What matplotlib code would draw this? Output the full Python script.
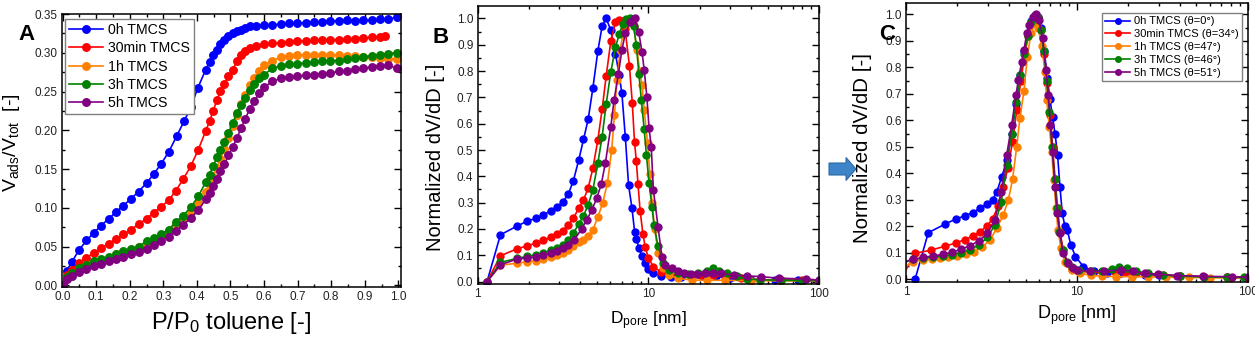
import numpy as np
import matplotlib
matplotlib.use("Agg")
import matplotlib.pyplot as plt
from matplotlib import ticker
from matplotlib.patches import FancyArrow

plt.rcParams['font.family'] = ['Liberation Sans', 'DejaVu Sans']
plt.rcParams['mathtext.default'] = 'regular'

colors = ['#0000FF', '#FF0000', '#FF8000', '#008000', '#800080']
labels_A = ['0h TMCS', '30min TMCS', '1h TMCS', '3h TMCS', '5h TMCS']
labels_C = ['0h TMCS (θ=0°)', '30min TMCS (θ=34°)', '1h TMCS (θ=47°)',
            '3h TMCS (θ=46°)', '5h TMCS (θ=51°)']

# ---- panel A: toluene isotherms
p_blue = [0, 0.012, 0.027, 0.049, 0.071, 0.093, 0.114, 0.137, 0.160, 0.181, 0.204, 0.226, 0.250, 0.272, 0.292,
          0.316, 0.340, 0.362, 0.382, 0.403, 0.426, 0.438, 0.449, 0.460, 0.470, 0.482, 0.494, 0.507, 0.519, 0.532,
          0.544, 0.558, 0.576, 0.601, 0.625, 0.650, 0.675, 0.699, 0.724, 0.749, 0.773, 0.798, 0.822, 0.847, 0.872,
          0.896, 0.921, 0.946, 0.970, 0.995]
v_blue = [0, 0.019, 0.030, 0.046, 0.058, 0.068, 0.077, 0.086, 0.095, 0.103, 0.112, 0.121, 0.132, 0.144, 0.156,
          0.172, 0.193, 0.212, 0.230, 0.255, 0.278, 0.288, 0.297, 0.304, 0.311, 0.317, 0.322, 0.326, 0.328, 0.330,
          0.332, 0.334, 0.335, 0.336, 0.336, 0.337, 0.338, 0.338, 0.339, 0.340, 0.340, 0.341, 0.341, 0.342, 0.341,
          0.342, 0.342, 0.343, 0.343, 0.346]

p_red = [0, 0.014, 0.027, 0.049, 0.071, 0.093, 0.114, 0.137, 0.160, 0.181, 0.204, 0.226, 0.250, 0.272, 0.292,
         0.316, 0.337, 0.359, 0.382, 0.404, 0.426, 0.438, 0.448, 0.460, 0.470, 0.482, 0.494, 0.507, 0.519, 0.532,
         0.544, 0.558, 0.576, 0.601, 0.625, 0.650, 0.675, 0.699, 0.724, 0.749, 0.773, 0.798, 0.822, 0.847, 0.872,
         0.896, 0.921, 0.946, 0.961]
v_red = [0, 0.014, 0.020, 0.029, 0.036, 0.042, 0.048, 0.054, 0.060, 0.066, 0.072, 0.079, 0.086, 0.094, 0.101,
         0.110, 0.122, 0.137, 0.154, 0.175, 0.199, 0.212, 0.225, 0.239, 0.251, 0.260, 0.270, 0.278, 0.289, 0.297,
         0.302, 0.306, 0.309, 0.311, 0.312, 0.313, 0.314, 0.315, 0.315, 0.316, 0.317, 0.317, 0.317, 0.318, 0.318,
         0.319, 0.320, 0.320, 0.321]

p_common = [0, 0.012, 0.027, 0.049, 0.071, 0.093, 0.114, 0.137, 0.160, 0.181, 0.204, 0.226, 0.250, 0.272, 0.292,
            0.316, 0.337, 0.359, 0.382, 0.404, 0.426, 0.438, 0.448, 0.460, 0.470, 0.482, 0.494, 0.507, 0.519, 0.532,
            0.544, 0.558, 0.571, 0.586, 0.601, 0.625, 0.650, 0.675, 0.699, 0.724, 0.749, 0.773, 0.798, 0.822, 0.847,
            0.872, 0.896, 0.921, 0.946, 0.970, 0.995]
v_orange = [0, 0.010, 0.015, 0.021, 0.026, 0.030, 0.033, 0.036, 0.040, 0.043, 0.046, 0.049, 0.055, 0.059, 0.064,
            0.069, 0.078, 0.086, 0.095, 0.106, 0.120, 0.130, 0.140, 0.152, 0.163, 0.176, 0.190, 0.205, 0.220, 0.234,
            0.246, 0.258, 0.268, 0.277, 0.284, 0.290, 0.294, 0.296, 0.297, 0.297, 0.297, 0.297, 0.297, 0.297, 0.296,
            0.296, 0.295, 0.294, 0.293, 0.292, 0.292]
v_green = [0, 0.011, 0.016, 0.022, 0.027, 0.031, 0.034, 0.037, 0.041, 0.044, 0.047, 0.050, 0.057, 0.061, 0.066,
           0.072, 0.082, 0.090, 0.101, 0.115, 0.133, 0.143, 0.154, 0.165, 0.175, 0.185, 0.197, 0.209, 0.223, 0.233,
           0.242, 0.252, 0.260, 0.267, 0.272, 0.280, 0.283, 0.285, 0.286, 0.287, 0.288, 0.289, 0.290, 0.290, 0.292,
           0.293, 0.295, 0.296, 0.297, 0.299, 0.300]
v_purple = [0, 0.008, 0.012, 0.017, 0.021, 0.025, 0.028, 0.031, 0.034, 0.037, 0.040, 0.043, 0.047, 0.052, 0.057,
            0.063, 0.070, 0.078, 0.087, 0.097, 0.111, 0.119, 0.128, 0.137, 0.147, 0.156, 0.168, 0.179, 0.190, 0.203,
            0.215, 0.228, 0.238, 0.248, 0.256, 0.263, 0.267, 0.269, 0.270, 0.271, 0.272, 0.273, 0.274, 0.276, 0.277,
            0.279, 0.280, 0.282, 0.283, 0.284, 0.280]

# ---- panel B: pore size distributions
dB_blue = [1.135, 1.36, 1.69, 1.95, 2.19, 2.42, 2.68, 2.93, 3.15, 3.4, 3.64, 3.91, 4.17, 4.44, 4.73, 5.06, 5.36,
           5.66, 6.03, 6.42, 6.75, 7.0, 7.33, 7.66, 8.02, 8.31, 8.5, 8.81, 9.18, 9.6, 10.0, 10.7, 11.8, 13.5, 15.5,
           18, 21, 25, 30, 40, 55, 75, 100]
vB_blue = [0, 0.178, 0.21, 0.23, 0.24, 0.252, 0.27, 0.285, 0.302, 0.333, 0.384, 0.462, 0.54, 0.616, 0.734, 0.876,
           0.97, 1.0, 0.955, 0.866, 0.784, 0.715, 0.55, 0.367, 0.279, 0.19, 0.162, 0.128, 0.096, 0.07, 0.048, 0.033,
           0.023, 0.018, 0.018, 0.02, 0.022, 0.02, 0.012, 0.008, 0.006, 0.005, 0.004]
dB_red = [1.135, 1.36, 1.69, 1.95, 2.19, 2.42, 2.68, 2.93, 3.15, 3.4, 3.64, 3.91, 4.17, 4.44, 4.73, 5.06, 5.36,
          5.66, 6.03, 6.42, 6.75, 7.0, 7.3, 7.75, 8.05, 8.3, 8.5, 8.7, 8.95, 9.3, 9.6, 10.0, 10.7, 11.8, 13.2, 15,
          17.5, 20, 24, 28, 35, 45, 60, 80, 100]
vB_red = [0, 0.098, 0.124, 0.136, 0.146, 0.157, 0.168, 0.18, 0.194, 0.216, 0.241, 0.279, 0.31, 0.355, 0.43, 0.538,
          0.654, 0.78, 0.914, 0.986, 0.995, 0.99, 0.96, 0.82, 0.68, 0.53, 0.46, 0.37, 0.27, 0.18, 0.13, 0.09, 0.057,
          0.038, 0.029, 0.025, 0.024, 0.026, 0.024, 0.018, 0.012, 0.008, 0.006, 0.005, 0.004]
dB_orange = [1.135, 1.36, 1.69, 1.95, 2.19, 2.42, 2.68, 2.93, 3.15, 3.4, 3.64, 3.91, 4.17, 4.44, 4.73, 5.06, 5.41,
             5.76, 6.1, 6.33, 6.55, 6.84, 7.1, 7.4, 7.8, 8.2, 8.58, 8.9, 9.18, 9.46, 9.9, 10.2, 10.5, 10.9, 11.4,
             12.2, 13.2, 15, 18, 22, 28, 40, 60, 100]
vB_orange = [0, 0.062, 0.07, 0.075, 0.08, 0.085, 0.092, 0.1, 0.11, 0.122, 0.135, 0.15, 0.16, 0.172, 0.197, 0.245,
             0.3, 0.375, 0.5, 0.633, 0.766, 0.88, 0.94, 0.98, 0.995, 0.97, 0.88, 0.8, 0.747, 0.652, 0.525, 0.41,
             0.3, 0.2, 0.11, 0.05, 0.025, 0.012, 0.006, 0.005, 0.005, 0.004, 0.003, 0.003]
dB_green = [1.135, 1.36, 1.69, 1.95, 2.19, 2.42, 2.68, 2.93, 3.15, 3.4, 3.64, 3.91, 4.17, 4.44, 4.73, 5.06, 5.36,
            5.66, 6.03, 6.42, 6.75, 7.1, 7.4, 7.8, 8.2, 8.5, 8.8, 9.1, 9.45, 9.75, 10.1, 10.5, 10.8, 11.4, 12.2,
            13.2, 15, 17, 19.5, 22, 24, 26, 29, 33, 38, 45, 60, 80, 100]
vB_green = [0, 0.073, 0.088, 0.096, 0.102, 0.109, 0.119, 0.128, 0.14, 0.159, 0.184, 0.22, 0.25, 0.292, 0.348,
            0.45, 0.55, 0.674, 0.797, 0.89, 0.94, 0.98, 0.998, 1.0, 0.97, 0.9, 0.79, 0.69, 0.58, 0.48, 0.375, 0.285,
            0.215, 0.134, 0.072, 0.045, 0.032, 0.03, 0.032, 0.04, 0.05, 0.042, 0.032, 0.02, 0.01, 0.007, 0.005,
            0.004, 0.004]
dB_purple = [1.135, 1.36, 1.69, 1.95, 2.19, 2.42, 2.68, 2.93, 3.15, 3.4, 3.67, 4.07, 4.35, 4.67, 4.98, 5.3, 5.6,
             6.03, 6.3, 6.68, 7.0, 7.33, 7.83, 8.1, 8.39, 8.77, 9.18, 9.46, 9.8, 10.1, 10.4, 10.7, 11.4, 12.0, 12.6,
             13.7, 15, 16.1, 17.7, 19.4, 21.6, 24, 26.5, 31.6, 38, 45.6, 58.4, 84, 100]
vB_purple = [0, 0.064, 0.085, 0.09, 0.094, 0.1, 0.107, 0.115, 0.126, 0.14, 0.158, 0.2, 0.234, 0.272, 0.316, 0.37,
             0.45, 0.589, 0.69, 0.79, 0.88, 0.943, 0.987, 0.995, 1.0, 0.95, 0.873, 0.804, 0.703, 0.582, 0.513, 0.348,
             0.209, 0.095, 0.063, 0.05, 0.04, 0.032, 0.03, 0.029, 0.032, 0.033, 0.032, 0.025, 0.022, 0.019, 0.013,
             0.01, 0.006]

# ---- panel C: normalized distributions
dC_blue = [1.13, 1.35, 1.69, 1.96, 2.21, 2.45, 2.71, 2.96, 3.21, 3.4, 3.63, 3.9, 4.15, 4.4, 4.65, 4.9, 5.15, 5.4,
           5.65, 5.9, 6.15, 6.45, 6.7, 6.95, 7.2, 7.44, 7.7, 7.95, 8.2, 8.5, 8.78, 9.2, 9.8, 10.9, 12.5, 15, 18, 21,
           25, 30, 40, 55, 75, 100]
vC_blue = [0, 0.176, 0.208, 0.228, 0.239, 0.252, 0.268, 0.283, 0.3, 0.331, 0.387, 0.45, 0.55, 0.66, 0.77, 0.86,
           0.93, 0.975, 0.998, 0.99, 0.95, 0.86, 0.76, 0.68, 0.611, 0.55, 0.47, 0.35, 0.25, 0.2, 0.186, 0.13, 0.086,
           0.048, 0.03, 0.025, 0.022, 0.02, 0.018, 0.015, 0.012, 0.01, 0.008, 0.006]
dC_red = [0.95, 1.13, 1.4, 1.69, 1.96, 2.21, 2.45, 2.71, 2.96, 3.21, 3.45, 3.7, 3.95, 4.2, 4.45, 4.7, 4.95, 5.2,
          5.45, 5.7, 5.95, 6.2, 6.45, 6.7, 6.95, 7.2, 7.45, 7.7, 7.95, 8.3, 8.8, 9.4, 10.2, 12, 14, 16.5, 19, 22, 26,
          32, 40, 55, 75, 100]
vC_red = [0.01, 0.098, 0.11, 0.125, 0.137, 0.15, 0.163, 0.18, 0.2, 0.228, 0.275, 0.35, 0.42, 0.52, 0.64, 0.75,
          0.85, 0.92, 0.97, 0.995, 0.985, 0.94, 0.85, 0.74, 0.62, 0.5, 0.38, 0.27, 0.18, 0.11, 0.06, 0.04, 0.03,
          0.027, 0.026, 0.03, 0.028, 0.024, 0.02, 0.017, 0.013, 0.01, 0.007, 0.005]
dC_orange = [0.95, 1.1, 1.25, 1.41, 1.58, 1.77, 2.0, 2.24, 2.5, 2.77, 3.1, 3.39, 3.71, 3.97, 4.2, 4.44, 4.64, 4.9,
             5.12, 5.38, 5.68, 5.94, 6.21, 6.5, 6.65, 6.89, 7.11, 7.33, 7.54, 7.74, 8.06, 8.51, 9.3, 10.4, 12, 14,
             17, 21, 26, 33, 45, 60, 80, 100]
vC_orange = [0.04, 0.067, 0.073, 0.075, 0.079, 0.083, 0.088, 0.094, 0.104, 0.121, 0.148, 0.192, 0.243, 0.3, 0.377,
             0.5, 0.61, 0.712, 0.838, 0.928, 0.966, 0.947, 0.88, 0.784, 0.677, 0.576, 0.482, 0.375, 0.268, 0.186,
             0.117, 0.067, 0.035, 0.023, 0.015, 0.012, 0.01, 0.01, 0.009, 0.008, 0.007, 0.006, 0.005, 0.005]
dC_green = [0.95, 1.1, 1.26, 1.44, 1.64, 1.85, 2.1, 2.37, 2.68, 2.99, 3.31, 3.6, 3.88, 4.15, 4.4, 4.65, 4.9, 5.15,
            5.4, 5.65, 5.9, 6.15, 6.4, 6.65, 6.9, 7.15, 7.4, 7.65, 7.9, 8.25, 8.8, 9.4, 10.3, 12, 14, 16, 17.7, 19.5,
            22, 26, 32, 40, 55, 75, 95]
vC_green = [0.06, 0.075, 0.08, 0.083, 0.087, 0.093, 0.101, 0.112, 0.13, 0.158, 0.205, 0.29, 0.43, 0.55, 0.67,
            0.77, 0.85, 0.92, 0.97, 0.995, 0.99, 0.94, 0.86, 0.75, 0.63, 0.5, 0.38, 0.27, 0.18, 0.11, 0.065, 0.045,
            0.035, 0.03, 0.033, 0.04, 0.048, 0.042, 0.032, 0.022, 0.016, 0.012, 0.009, 0.008, 0.007]
dC_purple = [0.95, 1.1, 1.26, 1.44, 1.64, 1.85, 2.1, 2.37, 2.68, 2.99, 3.31, 3.6, 3.88, 4.15, 4.4, 4.54, 4.75, 4.9,
             5.08, 5.26, 5.5, 5.75, 6.02, 6.3, 6.59, 6.8, 7.0, 7.2, 7.43, 7.67, 7.95, 8.31, 8.9, 9.5, 9.96, 11.9,
             14.3, 18.2, 21.3, 25, 29.9, 38.3, 54.8, 80.3, 100]
vC_purple = [0.065, 0.075, 0.083, 0.088, 0.094, 0.102, 0.113, 0.127, 0.146, 0.174, 0.224, 0.33, 0.469, 0.582,
             0.696, 0.752, 0.821, 0.865, 0.928, 0.96, 0.991, 1.0, 0.979, 0.909, 0.79, 0.696, 0.582, 0.482, 0.35,
             0.249, 0.174, 0.098, 0.06, 0.042, 0.035, 0.03, 0.031, 0.035, 0.031, 0.022, 0.02, 0.014, 0.011, 0.01,
             0.008]

seriesA = [(p_blue, v_blue), (p_red, v_red), (p_common, v_orange), (p_common, v_green), (p_common, v_purple)]
seriesB = [(dB_blue, vB_blue), (dB_red, vB_red), (dB_orange, vB_orange), (dB_green, vB_green), (dB_purple, vB_purple)]
seriesC = [(dC_blue, vC_blue), (dC_red, vC_red), (dC_orange, vC_orange), (dC_green, vC_green), (dC_purple, vC_purple)]

fig = plt.figure(figsize=(12.55, 3.45), dpi=100)
axA = fig.add_axes([0.0494, 0.1681, 0.2701, 0.7913])
axB = fig.add_axes([0.3806, 0.1768, 0.2720, 0.8058])
axC = fig.add_axes([0.7219, 0.1835, 0.2725, 0.8068])

def style(ax):
    ax.tick_params(which='both', direction='in', top=True, right=True, width=1.0,
                   labelsize=8.5, labelcolor='#222222', pad=3)
    ax.tick_params(which='major', length=5)
    ax.tick_params(which='minor', length=2.5)
    for s in ax.spines.values():
        s.set_linewidth(1.1)

# A
for (x, y), c, lab in zip(seriesA, colors, labels_A):
    axA.plot(x, y, '-o', color=c, lw=1.2, ms=5.4, label=lab)
axA.set_xlim(-0.002, 1.008)
axA.set_ylim(-0.002, 0.35)
axA.xaxis.set_major_locator(ticker.MultipleLocator(0.1))
axA.xaxis.set_minor_locator(ticker.MultipleLocator(0.05))
axA.yaxis.set_major_locator(ticker.MultipleLocator(0.05))
axA.yaxis.set_minor_locator(ticker.MultipleLocator(0.025))
axA.xaxis.set_major_formatter(ticker.FormatStrFormatter('%.1f'))
axA.yaxis.set_major_formatter(ticker.FormatStrFormatter('%.2f'))
style(axA)
axA.set_xlabel('P/P$_0$ toluene [-]', fontsize=17, labelpad=5)
axA.set_ylabel('V$_{ads}$/V$_{tot}$  [-]', fontsize=14)
axA.yaxis.set_label_coords(-0.118, 0.527)
legA = axA.legend(loc='upper left', bbox_to_anchor=(0.009, 0.982), borderaxespad=0, fontsize=10.2,
                  fancybox=False, edgecolor='#808080', framealpha=1, handlelength=2.4,
                  labelspacing=0.3, handletextpad=0.3, borderpad=0.3)
legA.get_frame().set_linewidth(1.0)

# B and C
for ax, series in ((axB, seriesB), (axC, seriesC)):
    for (x, y), c, lab in zip(series, colors, labels_C):
        ax.plot(x, y, '-o', color=c, lw=1.2, ms=5, label=lab)
    ax.set_xscale('log')
    ax.set_xlim(1, 100)
    ax.yaxis.set_major_locator(ticker.MultipleLocator(0.1))
    ax.yaxis.set_minor_locator(ticker.MultipleLocator(0.05))
    ax.yaxis.set_major_formatter(ticker.FormatStrFormatter('%.1f'))
    ax.xaxis.set_major_formatter(ticker.FuncFormatter(lambda v, p: '%g' % v))
    style(ax)

axB.set_ylim(-0.009, 1.047)
axC.set_ylim(-0.009, 1.0415)
axB.set_xlabel('D$_{pore}$ [nm]', fontsize=12.5, labelpad=7)
axB.set_ylabel('Normalized dV/dD [-]', fontsize=14.5)
axB.yaxis.set_label_coords(-0.096, 0.457)
axC.set_xlabel('D$_{pore}$ [nm]', fontsize=13, labelpad=4)
axC.set_ylabel('Normalized dV/dD [-]', fontsize=14.8)
axC.yaxis.set_label_coords(-0.099, 0.48)
legC = axC.legend(loc='upper right', bbox_to_anchor=(0.982, 0.965), borderaxespad=0, fontsize=8,
                  fancybox=False, edgecolor='#808080', framealpha=1, handlelength=2.3,
                  labelspacing=0.25, handletextpad=0.3, borderpad=0.3, markerscale=0.8)
legC.get_frame().set_linewidth(1.0)

# panel letters
fig.text(18 / 1255, 1 - 40 / 345, 'A', fontsize=16, fontweight='bold', ha='left', va='baseline')
fig.text(432 / 1255, 1 - 43 / 345, 'B', fontsize=16, fontweight='bold', ha='left', va='baseline')
fig.text(879 / 1255, 1 - 40 / 345, 'C', fontsize=16, fontweight='bold', ha='left', va='baseline')

# block arrow between B and C
arrow = FancyArrow(8.29, 1.76, 0.27, 0, width=0.12, head_width=0.23, head_length=0.1,
                   length_includes_head=True, transform=fig.dpi_scale_trans,
                   facecolor='#3d85c8', edgecolor='#2b6aa6', lw=0.8)
fig.patches.append(arrow)

fig.savefig('out.png', dpi=100)
